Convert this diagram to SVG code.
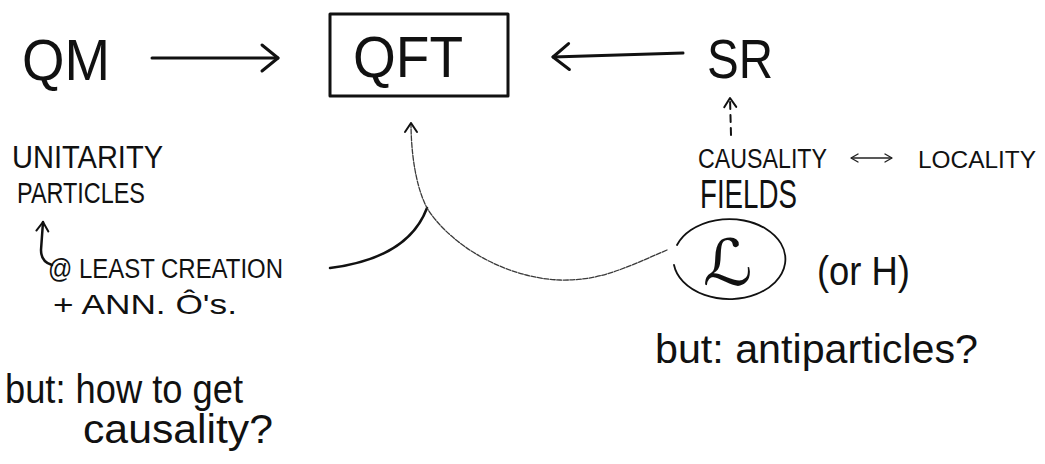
<svg xmlns="http://www.w3.org/2000/svg" width="1045" height="464" viewBox="0 0 1045 464">
  <defs>
    <style>
      .t { font-family: "Liberation Sans", "DejaVu Sans", sans-serif; fill: #111; }
      .ink { fill: none; stroke: #111; stroke-linecap: round; stroke-linejoin: round; }
      .faint { fill: none; stroke: #3a3a3a; stroke-width: 1.3; stroke-dasharray: 5 1.5; stroke-linecap: round; }
    </style>
    <marker id="head-big" viewBox="-3 -3 22 32" markerWidth="22" markerHeight="32" refX="16" refY="13" orient="auto" markerUnits="userSpaceOnUse">
      <path d="M0,0 L16,13 L0,26" fill="none" stroke="#111" stroke-width="3" stroke-linecap="round" stroke-linejoin="round"/>
    </marker>
    <marker id="head-small" viewBox="-2 -2 14 16" markerWidth="14" markerHeight="16" refX="9" refY="6" orient="auto" markerUnits="userSpaceOnUse">
      <path d="M0,0 L9,6 L0,12" fill="none" stroke="#111" stroke-width="2" stroke-linecap="round" stroke-linejoin="round"/>
    </marker>
    <marker id="head-tiny" viewBox="-2 -2 12 12" markerWidth="12" markerHeight="12" refX="7" refY="4" orient="auto-start-reverse" markerUnits="userSpaceOnUse">
      <path d="M0,0 L7,4 L0,8" fill="none" stroke="#222" stroke-width="1.4" stroke-linecap="round" stroke-linejoin="round"/>
    </marker>
  </defs>

  <rect width="1045" height="464" fill="#fff"/>

  <!-- main nodes -->
  <g id="qm">
    <text class="t" x="22" y="80" font-size="58" textLength="88" lengthAdjust="spacingAndGlyphs">QM</text>
  </g>

  <g id="qft">
    <rect x="330" y="14" width="178" height="82" class="ink" stroke-width="3"/>
    <text class="t" x="353" y="77" font-size="58" textLength="110" lengthAdjust="spacingAndGlyphs">QFT</text>
  </g>

  <g id="sr">
    <text class="t" x="707" y="78" font-size="56" textLength="66" lengthAdjust="spacingAndGlyphs">SR</text>
  </g>

  <!-- notes under QM -->
  <g id="unitarity-notes">
    <text class="t" x="12" y="168" font-size="32" textLength="151" lengthAdjust="spacingAndGlyphs">UNITARITY</text>
    <text class="t" x="17" y="203" font-size="30" textLength="128" lengthAdjust="spacingAndGlyphs">PARTICLES</text>
  </g>

  <g id="creation-notes">
    <text class="t" x="48" y="278" font-size="27" textLength="235" lengthAdjust="spacingAndGlyphs">@ LEAST CREATION</text>
    <text class="t" x="53" y="314" font-size="28" textLength="184" lengthAdjust="spacingAndGlyphs">+ ANN. Ô's.</text>
  </g>

  <g id="but-causality">
    <text class="t" x="5" y="403" font-size="40" textLength="238" lengthAdjust="spacingAndGlyphs">but: how to get</text>
    <text class="t" x="83" y="443" font-size="40" textLength="190" lengthAdjust="spacingAndGlyphs">causality?</text>
  </g>

  <!-- notes under SR -->
  <g id="causality-notes">
    <text class="t" x="698" y="168" font-size="27" textLength="129" lengthAdjust="spacingAndGlyphs">CAUSALITY</text>
    <text class="t" x="918" y="168" font-size="24" textLength="118" lengthAdjust="spacingAndGlyphs">LOCALITY</text>
    <text class="t" x="700" y="208" font-size="40" textLength="97" lengthAdjust="spacingAndGlyphs">FIELDS</text>
  </g>

  <g id="lagrangian">
    <path d="M677,245 A56,40 0 1 1 674,265" class="ink" stroke-width="1.8"/>
    <text class="t" x="703" y="285" font-size="64" textLength="50" lengthAdjust="spacingAndGlyphs">ℒ</text>
    <text class="t" x="817" y="285" font-size="40" textLength="93" lengthAdjust="spacingAndGlyphs">(or H)</text>
  </g>

  <g id="but-antiparticles">
    <text class="t" x="655" y="363" font-size="40" textLength="323" lengthAdjust="spacingAndGlyphs">but: antiparticles?</text>
  </g>

  <!-- connectors -->
  <g id="connectors">
    <path d="M152,58 L278,58" class="ink" stroke-width="3" marker-end="url(#head-big)"/>
    <path d="M683,53 L553,57" class="ink" stroke-width="3" marker-end="url(#head-big)"/>
    <path d="M731,135 L730,98" class="ink" stroke-width="2" stroke-dasharray="7 6" marker-end="url(#head-small)"/>
    <path d="M851,158 L892,158" fill="none" stroke="#222" stroke-width="1.4" marker-start="url(#head-tiny)" marker-end="url(#head-tiny)"/>
    <path d="M52,265 Q41,262 41,250 L43,222" class="ink" stroke-width="2.5" marker-end="url(#head-small)"/>
    <path d="M330,268 C370,263 412,248 427,208" class="ink" stroke-width="2.5"/>
    <path d="M667,250 C625,268 600,281 560,280 C505,278 450,245 427,208 C415,185 411,150 411,123" class="faint" marker-end="url(#head-small)"/>
  </g>
</svg>
